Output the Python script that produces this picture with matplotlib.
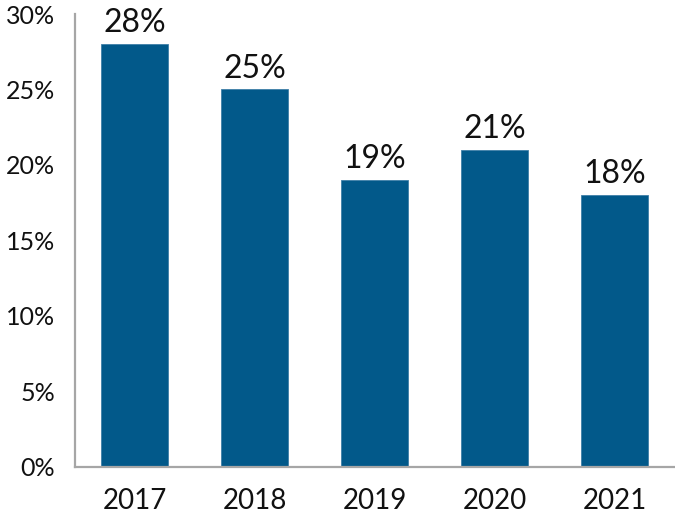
import matplotlib
matplotlib.use("Agg")
import matplotlib.pyplot as plt
from matplotlib.ticker import FuncFormatter

years = ["2017", "2018", "2019", "2020", "2021"]
shares = [28, 25, 19, 21, 18]

plt.rcParams['font.family'] = ['Lato', 'DejaVu Sans']

fig = plt.figure(figsize=(6.75, 5.21), dpi=100)
ax = fig.add_axes([0.1104, 0.1042, 0.889, 0.8689])

bars = ax.bar(range(len(years)), shares, width=0.56, color="#02598A",
              edgecolor="#3F7FA8", linewidth=0.6)
for b, v in zip(bars, shares):
    ax.annotate(f"{v}%", (b.get_x() + b.get_width() / 2, v),
                xytext=(0, 8.6), textcoords="offset points",
                ha="center", va="baseline", fontsize=23, color="#111111")

ax.set_xlim(-0.5, 4.5)
ax.set_ylim(0, 30)
ax.set_yticks(range(0, 31, 5))
ax.yaxis.set_major_formatter(FuncFormatter(lambda v, p: f"{v:.0f}%"))
ax.set_xticks(range(len(years)))
ax.set_xticklabels(years)
ax.tick_params(axis="both", length=0, colors="#111111")
ax.tick_params(axis="x", pad=15, labelsize=20)
ax.tick_params(axis="y", pad=14, labelsize=18)

for s in ["top", "right"]:
    ax.spines[s].set_visible(False)
for s in ["left", "bottom"]:
    ax.spines[s].set_color("#A6A6A6")
    ax.spines[s].set_linewidth(1.6)

fig.savefig("out.png", dpi=100)
